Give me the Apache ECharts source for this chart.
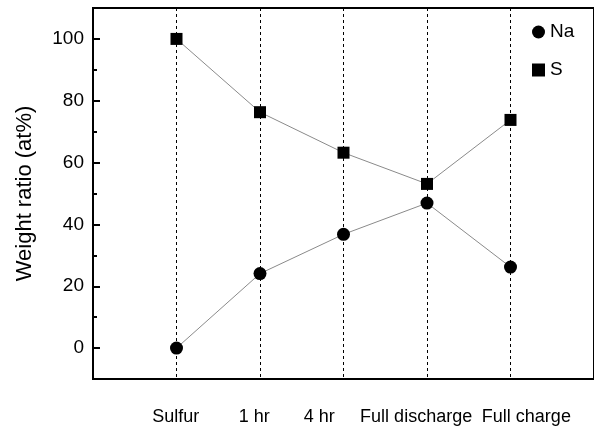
<!DOCTYPE html>
<html>
<head>
<meta charset="utf-8">
<script src="https://cdn.jsdelivr.net/npm/echarts@6/dist/echarts.min.js"></script>
<style>
  html, body { margin: 0; padding: 0; background: #fff; }
  #chart { width: 594px; height: 430px; }
</style>
</head>
<body>
<div id="chart"></div>
<script>
const categories = ['Sulfur', '1 hr', '4 hr', 'Full discharge', 'Full charge']
const naValues = [0, 24.1, 36.8, 46.9, 26.2]
const sValues = [100, 76.3, 63.2, 53.1, 73.8]
const yMajorTicks = [0, 20, 40, 60, 80, 100]
const yMinorTicks = [10, 30, 50, 70, 90]
// labels in the source sit a bit off their dashed lines (in x units)
const labelShift = [-0.01, -0.07, -0.29, -0.13, 0.19]

const font = '"Liberation Sans", Arial, sans-serif'
const chart = echarts.init(document.getElementById('chart'))

const xIdx = categories.map((c, i) => i + 1)
const labelPos = xIdx.map((v, i) => v + labelShift[i])

chart.setOption({
  animation: false,
  grid: {
    left: 93, right: -4, top: 8, bottom: 51,
    show: true, borderColor: '#000', borderWidth: 2
  },
  legend: {
    orient: 'vertical',
    left: 527, top: 17,
    itemWidth: 13, itemHeight: 13, itemGap: 18,
    textStyle: { fontFamily: font, fontSize: 19, color: '#000', lineHeight: 20 },
    data: [{ name: 'Na', icon: 'circle' }, { name: 'S', icon: 'rect' }]
  },
  xAxis: [
    {
      type: 'value', min: 0, max: 6, interval: 1,
      axisLine: { onZero: false, lineStyle: { color: '#000', width: 2 } },
      axisTick: { show: false },
      axisLabel: { show: false },
      splitLine: { show: true, lineStyle: { color: '#000', width: 1, type: [3, 3] } }
    },
    {
      type: 'value', min: 0, max: 6, position: 'bottom',
      axisLine: { show: false, onZero: false },
      axisTick: { show: false },
      splitLine: { show: false },
      axisLabel: {
        customValues: labelPos,
        margin: 29,
        fontFamily: font, fontSize: 18, color: '#000',
        formatter: v => {
          let best = 0
          labelPos.forEach((p, i) => { if (Math.abs(p - v) < Math.abs(labelPos[best] - v)) best = i })
          return categories[best]
        }
      }
    }
  ],
  yAxis: [
    {
      type: 'value', min: -10, max: 110, interval: 10,
      name: 'Weight ratio (at%)',
      nameLocation: 'middle', nameGap: 57,
      nameTextStyle: { fontFamily: font, fontSize: 22, color: '#000' },
      axisLine: { show: true, lineStyle: { color: '#000', width: 2 } },
      axisTick: { show: true, inside: true, length: 7, customValues: yMajorTicks, lineStyle: { color: '#000', width: 2 } },
      axisLabel: { customValues: yMajorTicks, margin: 9, fontFamily: font, fontSize: 19, color: '#000' },
      splitLine: { show: false }
    },
    {
      type: 'value', min: -10, max: 110, position: 'left',
      axisLine: { show: false },
      axisTick: { show: true, inside: true, length: 4, customValues: yMinorTicks, lineStyle: { color: '#000', width: 2 } },
      axisLabel: { show: false },
      splitLine: { show: false }
    }
  ],
  series: [
    {
      name: 'Na', type: 'line',
      data: xIdx.map((x, i) => [x, naValues[i]]),
      symbol: 'circle', symbolSize: 13,
      itemStyle: { color: '#000' },
      lineStyle: { color: '#8a8a8a', width: 1 }
    },
    {
      name: 'S', type: 'line',
      data: xIdx.map((x, i) => [x, sValues[i]]),
      symbol: 'rect', symbolSize: 12,
      itemStyle: { color: '#000' },
      lineStyle: { color: '#8a8a8a', width: 1 }
    }
  ]
})
</script>
</body>
</html>
